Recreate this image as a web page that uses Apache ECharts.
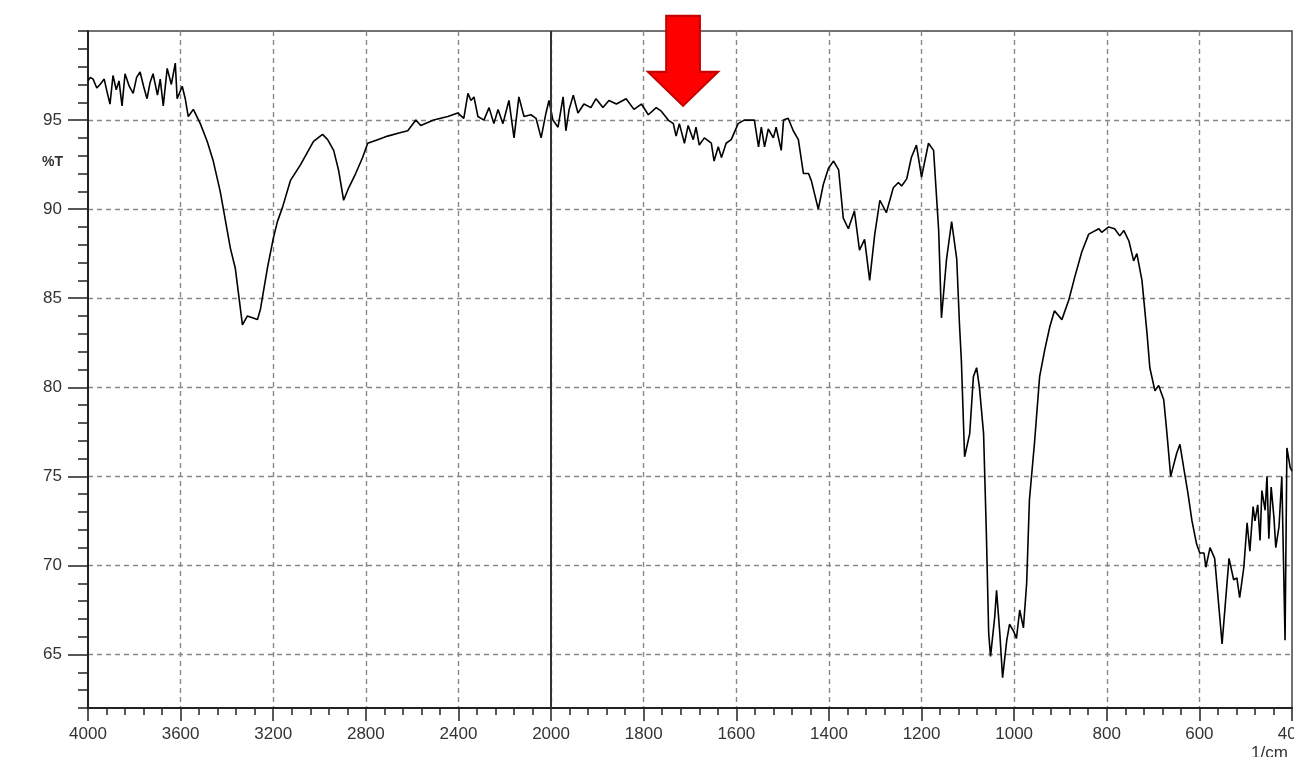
<!DOCTYPE html>
<html>
<head>
<meta charset="utf-8">
<script src="https://cdn.jsdelivr.net/npm/echarts@6/dist/echarts.min.js"></script>
<style>
  html, body { margin: 0; padding: 0; background: #fff; }
  #chart { width: 1294px; height: 757px; }
</style>
</head>
<body>
<div id="chart"></div>
<script>
// wavenumber (1/cm) and transmittance (%T)
var wavenumbers = [
  4000, 3990, 3978, 3962, 3948, 3930, 3918, 3905, 3892, 3878, 3866, 3853, 3840, 3822, 3805, 3790,
  3775, 3760, 3745, 3732, 3719, 3700, 3688, 3675, 3658, 3640, 3623, 3615, 3593,
  3580, 3567, 3545, 3515, 3485, 3459, 3429, 3385, 3364, 3333, 3312, 3290, 3268, 3255, 3225, 3199,
  3182, 3160, 3126, 3082, 3026, 2987, 2965, 2939, 2918, 2896, 2874, 2844, 2814, 2792, 2749, 2706,
  2649, 2619, 2584, 2563, 2507, 2446, 2403, 2377, 2359, 2346, 2333, 2316, 2290, 2268, 2247, 2229,
  2208, 2182, 2160, 2139, 2117, 2087, 2065, 2043, 2022, 2009,
  1996, 1985, 1974, 1968, 1961, 1952, 1942, 1929, 1914, 1903, 1888, 1875, 1859, 1838, 1821, 1805,
  1790, 1773, 1762, 1747, 1736, 1730, 1723, 1712, 1704, 1693, 1687, 1680, 1669, 1654, 1648, 1639,
  1632, 1622, 1611, 1596, 1583, 1561, 1552, 1546, 1539, 1531, 1520, 1514, 1503, 1498, 1488, 1477,
  1466, 1455, 1444, 1438, 1423, 1412, 1401, 1390, 1379, 1369, 1358, 1345, 1334, 1323, 1312, 1301,
  1290, 1276, 1261, 1250, 1243, 1232, 1222, 1211, 1200, 1185, 1174, 1163, 1157, 1146, 1135, 1124,
  1118, 1114, 1107, 1096, 1088, 1081, 1075, 1066, 1060, 1055, 1051, 1042, 1038, 1031, 1025, 1016,
  1010, 1001, 995, 988, 980, 973, 967, 956, 945, 934, 923, 913, 897, 882, 869, 854,
  839, 817, 811, 796, 783, 772, 763, 752, 742, 735, 724, 713, 707, 696, 688, 677,
  670, 662, 649, 642, 634, 625, 616, 606, 599, 590, 586, 577, 567, 551, 536, 526,
  519, 513, 504, 497, 491, 484, 480, 474, 469, 465, 458, 454, 450, 445, 439, 435,
  428, 422, 415, 411, 404, 400
];
var transmittance = [
  97.2, 97.4, 97.3, 96.8, 97.0, 97.3, 96.6, 95.9, 97.5, 96.7, 97.2, 95.8, 97.6, 96.9, 96.5, 97.4,
  97.7, 96.9, 96.2, 97.1, 97.6, 96.4, 97.3, 95.8, 97.9, 97.0, 98.2, 96.2, 96.9,
  96.2, 95.2, 95.6, 94.8, 93.8, 92.7, 91.0, 87.8, 86.7, 83.5, 84.0, 83.9, 83.8, 84.4, 86.7, 88.4,
  89.3, 90.1, 91.6, 92.5, 93.8, 94.2, 93.9, 93.3, 92.2, 90.5, 91.2, 92.0, 92.9, 93.7, 93.9, 94.1,
  94.3, 94.4, 95.0, 94.7, 95.0, 95.2, 95.4, 95.1, 96.5, 96.1, 96.3, 95.2, 95.0, 95.7, 94.8, 95.6,
  94.8, 96.1, 94.0, 96.3, 95.2, 95.3, 95.1, 94.0, 95.4, 96.1,
  95.0, 94.6, 96.3, 94.4, 95.6, 96.4, 95.4, 95.9, 95.7, 96.2, 95.7, 96.1, 95.9, 96.2, 95.6, 95.9,
  95.3, 95.7, 95.5, 95.0, 94.8, 94.1, 94.8, 93.7, 94.7, 93.9, 94.6, 93.6, 94.0, 93.7, 92.7, 93.5,
  92.9, 93.7, 93.9, 94.8, 95.0, 95.0, 93.5, 94.6, 93.5, 94.5, 94.0, 94.6, 93.3, 95.0, 95.1, 94.4,
  93.9, 92.0, 92.0, 91.6, 90.0, 91.4, 92.3, 92.7, 92.2, 89.5, 88.9, 89.9, 87.7, 88.3, 86.0, 88.6,
  90.5, 89.8, 91.2, 91.5, 91.3, 91.7, 92.9, 93.6, 91.8, 93.7, 93.3, 88.8, 83.9, 87.2, 89.3, 87.2,
  83.5, 81.5, 76.1, 77.4, 80.6, 81.1, 80.0, 77.4, 71.8, 66.2, 64.9, 67.1, 68.6, 66.2, 63.7, 65.8,
  66.7, 66.3, 65.9, 67.5, 66.5, 69.0, 73.7, 76.9, 80.6, 82.1, 83.4, 84.3, 83.8, 84.9, 86.2, 87.6,
  88.6, 88.9, 88.7, 89.0, 88.9, 88.5, 88.8, 88.2, 87.1, 87.5, 86.0, 83.0, 81.1, 79.8, 80.1, 79.3,
  77.4, 75.0, 76.3, 76.8, 75.5, 74.1, 72.5, 71.2, 70.7, 70.7, 69.9, 71.0, 70.4, 65.6, 70.4, 69.2,
  69.3, 68.2, 69.9, 72.4, 70.8, 73.3, 72.5, 73.4, 71.4, 74.2, 73.1, 75.0, 71.5, 74.4, 72.7, 71.0,
  72.2, 75.0, 65.8, 76.6, 75.5, 75.3
];
var yMajorTicks = [65, 70, 75, 80, 85, 90, 95];
var arrowAt = [1715, 95.8];

// the x scale doubles below 2000 1/cm, so map wavenumber onto a linear position
function toPos(w) {
  return w >= 2000 ? (4000 - w) / 2 : 3000 - w;
}
function toWave(t) {
  return t <= 1000 ? 4000 - 2 * t : 3000 - t;
}

var points = wavenumbers.map(function (w, i) {
  return [toPos(w), transmittance[i]];
});

var chart = echarts.init(document.getElementById('chart'));
var font = '"Liberation Sans", Arial, sans-serif';
var dash = { color: '#888', width: 1.4, type: [5, 4] };

var option = {
  backgroundColor: '#ffffff',
  animation: false,
  grid: {
    left: 88, right: 2, top: 31, bottom: 49,
    outerBoundsMode: 'none',
    containLabel: false,
    show: true, borderColor: '#444', borderWidth: 1.5
  },
  xAxis: {
    type: 'value',
    min: 0,
    max: 2600,
    interval: 200,
    axisLine: { show: true, lineStyle: { color: '#222', width: 2 } },
    axisTick: { show: true, length: 13, lineStyle: { color: '#222', width: 1.5 } },
    minorTick: { show: true, splitNumber: 5, length: 7, lineStyle: { color: '#222', width: 1.5 } },
    axisLabel: {
      margin: 18,
      color: '#333',
      fontSize: 17,
      fontFamily: font,
      showMaxLabel: true,
      hideOverlap: false,
      formatter: function (t) { return String(toWave(t)); }
    },
    splitLine: { show: true, showMinLine: false, showMaxLine: false, lineStyle: dash }
  },
  yAxis: [{
    type: 'value',
    position: 'left',
    min: 62,
    max: 100,
    interval: 1,
    axisLine: { show: true, lineStyle: { color: '#222', width: 2 } },
    axisTick: { show: true, length: 10, lineStyle: { color: '#222', width: 1.5 } },
    axisLabel: { show: false },
    splitLine: { show: false }
  }, {
    type: 'value',
    position: 'left',
    offset: 0,
    min: 62,
    max: 100,
    axisLine: { show: false },
    axisTick: { show: true, length: 20, customValues: yMajorTicks, lineStyle: { color: '#222', width: 1.5 } },
    axisLabel: {
      customValues: yMajorTicks,
      margin: 26,
      color: '#333',
      fontSize: 17,
      fontFamily: font
    },
    splitLine: { show: true, lineStyle: dash }
  }],
  series: [{
    type: 'line',
    data: points,
    yAxisIndex: 0,
    showSymbol: false,
    lineStyle: { color: '#000', width: 1.6 },
    markLine: {
      silent: true,
      symbol: 'none',
      label: { show: false },
      lineStyle: { color: '#333', width: 2, type: 'solid' },
      data: [{ xAxis: 1000 }]
    },
    markPoint: {
      silent: true,
      symbol: 'path://M18,0 L52,0 L52,56 L70,56 L35,90 L0,56 L18,56 Z',
      symbolSize: [70, 90],
      symbolOffset: [0, '-50%'],
      label: { show: false },
      itemStyle: { color: '#ff0000', borderColor: '#c40000', borderWidth: 2 },
      data: [{ coord: [toPos(arrowAt[0]), arrowAt[1]] }]
    }
  }],
  graphic: [{
    type: 'text',
    left: 42,
    top: 155,
    style: { text: '%T', fill: '#333', font: 'bold 14px ' + font }
  }, {
    type: 'text',
    left: 1251,
    top: 745,
    style: { text: '1/cm', fill: '#333', font: '17px ' + font }
  }]
};

chart.setOption(option);
</script>
</body>
</html>
